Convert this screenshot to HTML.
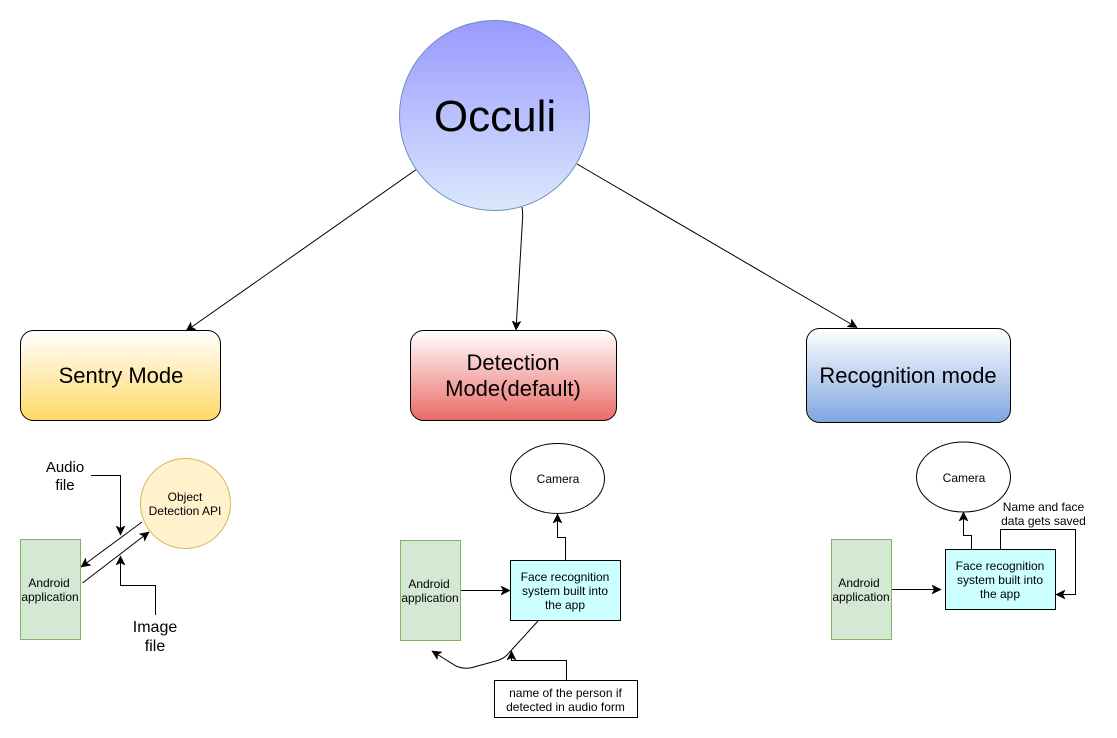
<!DOCTYPE html>
<html>
<head>
<meta charset="utf-8">
<style>
html,body{margin:0;padding:0;background:#fff;}
svg{display:block;}
text{font-family:"Liberation Sans",sans-serif;fill:#000;text-anchor:middle;}
.c{fill:none;stroke:#000;stroke-width:1;}
.t{font-size:12px;}
</style>
</head>
<body>
<svg width="1117" height="738" viewBox="0 0 1117 738" xmlns="http://www.w3.org/2000/svg">
<defs>
<linearGradient id="g1" x1="0" y1="0" x2="0" y2="1"><stop offset="0" stop-color="#9999ff"/><stop offset="1" stop-color="#dae8fc"/></linearGradient>
<linearGradient id="g2" x1="0" y1="0" x2="0" y2="1"><stop offset="0" stop-color="#ffffff"/><stop offset="1" stop-color="#ffd966"/></linearGradient>
<linearGradient id="g3" x1="0" y1="0" x2="0" y2="1"><stop offset="0" stop-color="#ffffff"/><stop offset="1" stop-color="#ea6b66"/></linearGradient>
<linearGradient id="g4" x1="0" y1="0" x2="0" y2="1"><stop offset="0" stop-color="#ffffff"/><stop offset="1" stop-color="#7ea6e0"/></linearGradient>
<marker id="a" markerUnits="userSpaceOnUse" markerWidth="12" markerHeight="12" refX="9" refY="5" orient="auto" viewBox="0 0 12 10">
<path d="M0,0.6 L9,5 L0,9.4 L2.4,5 Z" fill="#000" stroke="#000" stroke-width="0.6"/>
</marker>
</defs>

<!-- top connectors -->
<path class="c" d="M417,169 L186,331" marker-end="url(#a)"/>
<path class="c" d="M522,207 Q523,212 522.5,220 L516,330" marker-end="url(#a)"/>
<path class="c" d="M577,164 L857,327.5" marker-end="url(#a)"/>

<!-- main circle -->
<circle cx="494.5" cy="115.5" r="95" fill="url(#g1)" stroke="#6c8ebf"/>
<text x="495" y="131" style="font-size:44px">Occuli</text>

<!-- mode boxes -->
<rect x="20.5" y="330.5" width="200" height="90" rx="13" fill="url(#g2)" stroke="#000"/>
<text x="121" y="383" style="font-size:22px">Sentry Mode</text>
<rect x="410.5" y="330.5" width="206" height="90" rx="13" fill="url(#g3)" stroke="#000"/>
<text x="513" y="370" style="font-size:22px">Detection</text>
<text x="513" y="396" style="font-size:22px">Mode(default)</text>
<rect x="806.5" y="328.5" width="204" height="94" rx="13" fill="url(#g4)" stroke="#000"/>
<text x="908" y="383" style="font-size:22px">Recognition mode</text>

<!-- Sentry -->
<path class="c" d="M91,475.5 H120.5 V535" marker-end="url(#a)"/>
<path class="c" d="M155.5,615 V585.5 H120.5 V556" marker-end="url(#a)"/>
<path class="c" d="M142,522 L81,567" marker-end="url(#a)"/>
<path class="c" d="M82.5,583 L149,532" marker-end="url(#a)"/>
<circle cx="185.5" cy="503.5" r="45" fill="#fff2cc" stroke="#d6b656"/>
<text class="t" x="185" y="501">Object</text>
<text class="t" x="185" y="515">Detection API</text>
<rect x="20.5" y="539.5" width="60" height="100" fill="#d5e8d4" stroke="#82b366"/>
<text class="t" x="49" y="587">Android</text>
<text class="t" x="50" y="601">application</text>
<text x="65" y="472" style="font-size:15px">Audio</text>
<text x="65" y="490" style="font-size:15px">file</text>
<text x="155" y="632" style="font-size:16px">Image</text>
<text x="155" y="651" style="font-size:16px">file</text>

<!-- Detection -->
<ellipse cx="557.5" cy="478.5" rx="47" ry="35" fill="#fff" stroke="#000"/>
<text class="t" x="558" y="483">Camera</text>
<path class="c" d="M565.5,560 V537.5 H557.5 V514" marker-end="url(#a)"/>
<rect x="400.5" y="540.5" width="60" height="100" fill="#d5e8d4" stroke="#82b366"/>
<text class="t" x="429" y="588">Android</text>
<text class="t" x="430" y="602">application</text>
<path class="c" d="M461,590.5 H510" marker-end="url(#a)"/>
<rect x="510.5" y="560.5" width="110" height="60" fill="#ccffff" stroke="#000"/>
<text class="t" x="565" y="581">Face recognition</text>
<text class="t" x="565" y="595">system built into</text>
<text class="t" x="565" y="609">the app</text>
<path class="c" d="M538,621 L507,655 Q503,659 496,661 L474,667 Q465,670 456,666 L432,651" marker-end="url(#a)"/>
<path class="c" d="M566.5,680 V660.5 H511.5 V651" marker-end="url(#a)"/>
<rect x="494.5" y="680.5" width="143" height="37" fill="#fff" stroke="#000"/>
<text class="t" x="565.5" y="697">name of the person if</text>
<text class="t" x="565.5" y="711">detected in audio form</text>

<!-- Recognition -->
<ellipse cx="963.5" cy="477" rx="47" ry="35" fill="#fff" stroke="#000"/>
<text class="t" x="964" y="482">Camera</text>
<path class="c" d="M971.5,549 V535.5 H963.5 V512" marker-end="url(#a)"/>
<rect x="831.5" y="539.5" width="60" height="100" fill="#d5e8d4" stroke="#82b366"/>
<text class="t" x="859" y="587">Android</text>
<text class="t" x="861" y="601">application</text>
<path class="c" d="M892,589.5 H941" marker-end="url(#a)"/>
<path class="c" d="M1000.5,549 V529.5 H1075.5 V594.5 H1056" marker-end="url(#a)"/>
<rect x="945.5" y="549.5" width="110" height="60" fill="#ccffff" stroke="#000"/>
<text class="t" x="1000" y="570">Face recognition</text>
<text class="t" x="1000" y="584">system built into</text>
<text class="t" x="1000" y="598">the app</text>
<text class="t" x="1043.5" y="511">Name and face</text>
<text class="t" x="1043.5" y="525">data gets saved</text>
</svg>
</body>
</html>
